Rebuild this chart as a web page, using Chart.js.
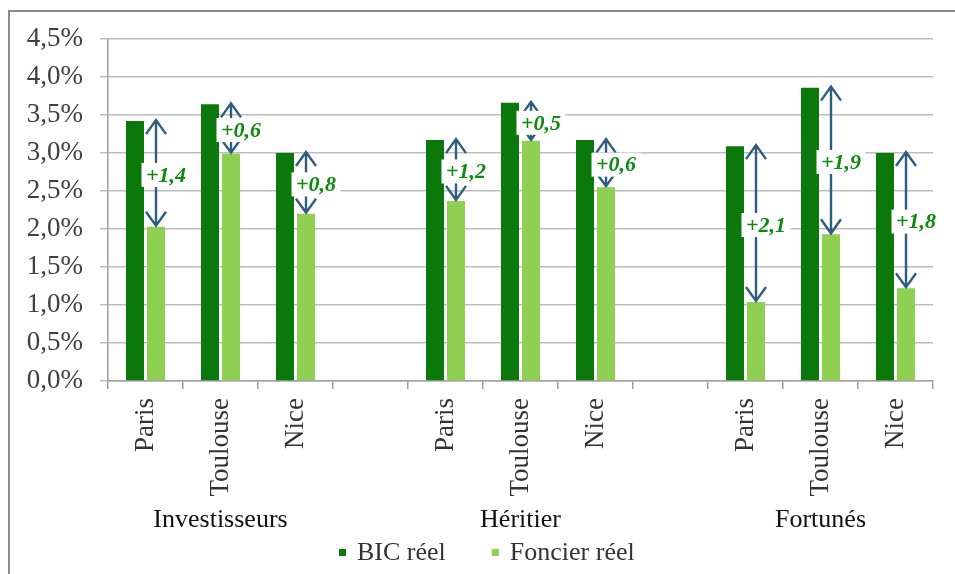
<!DOCTYPE html>
<html lang="fr">
<head>
<meta charset="utf-8">
<title>BIC réel vs Foncier réel</title>
<script src="https://cdn.jsdelivr.net/npm/chart.js@4.4.1/dist/chart.umd.min.js"></script>
<style>
    html, body { margin: 0; padding: 0; background: #fff; }
    #wrap { width: 955px; height: 574px; }
</style>
</head>
<body>
<div id="wrap"><canvas id="rendementChart" width="955" height="574"></canvas></div>
<script>
// villes (les cases vides séparent les profils)
const villes = ['Paris', 'Toulouse', 'Nice', '', 'Paris', 'Toulouse', 'Nice', '', 'Paris', 'Toulouse', 'Nice'];
const profils = ['Investisseurs', 'Héritier', 'Fortunés'];
const profilIndex = [1, 5, 9];

// rendements en %
const bicReel = [3.42, 3.64, 3.00, null, 3.17, 3.66, 3.17, null, 3.09, 3.86, 3.00];
const foncierReel = [2.03, 2.99, 2.20, null, 2.37, 3.16, 2.55, null, 1.04, 1.93, 1.22];
const ecarts = ['+1,4', '+0,6', '+0,8', '', '+1,2', '+0,5', '+0,6', '', '+2,1', '+1,9', '+1,8'];

const serif = '"Liberation Serif", "DejaVu Serif", serif';
Chart.defaults.font.family = serif;

// cadre gris en haut et a gauche
const cadrePlugin = {
    id: 'cadre',
    beforeDraw(chart) {
        const ctx = chart.ctx;
        ctx.save();
        ctx.fillStyle = '#fff';
        ctx.fillRect(0, 0, chart.width, chart.height);
        ctx.strokeStyle = '#8c8c8c';
        ctx.lineWidth = 2;
        ctx.beginPath();
        ctx.moveTo(9, chart.height);
        ctx.lineTo(9, 11);
        ctx.lineTo(chart.width, 11);
        ctx.stroke();
        ctx.restore();
    }
};

// fleches et ecarts
const ecartPlugin = {
    id: 'ecarts',
    afterDatasetsDraw(chart) {
        const ctx = chart.ctx;
        const y = chart.scales.y;
        const meta = chart.getDatasetMeta(1);
        ecarts.forEach((txt, i) => {
            if (!txt) return;
            const x = meta.data[i].x;
            const yTop = y.getPixelForValue(bicReel[i]) - 2;
            const yBot = y.getPixelForValue(foncierReel[i]);
            ctx.save();
            ctx.strokeStyle = '#2f5d7e';
            ctx.lineWidth = 2.4;
            ctx.beginPath();
            ctx.moveTo(x, yTop + 1);
            ctx.lineTo(x, yBot - 1);
            ctx.moveTo(x - 10, yTop + 15);
            ctx.lineTo(x, yTop + 1);
            ctx.lineTo(x + 10, yTop + 15);
            ctx.moveTo(x - 10, yBot - 15);
            ctx.lineTo(x, yBot - 1);
            ctx.lineTo(x + 10, yBot - 15);
            ctx.stroke();

            ctx.font = 'italic bold 22px ' + serif;
            const w = ctx.measureText(txt).width + 9;
            const cx = x + 10;
            const cy = (yTop + yBot) / 2 + 2;
            ctx.fillStyle = '#fff';
            ctx.fillRect(cx - w / 2, cy - 12, w, 24);
            ctx.fillStyle = '#0f8a0f';
            ctx.textAlign = 'center';
            ctx.textBaseline = 'middle';
            ctx.fillText(txt, cx, cy + 1);
            ctx.restore();
        });
    }
};

// noms des profils sous les villes + legende
const basPlugin = {
    id: 'profils',
    afterDraw(chart) {
        const ctx = chart.ctx;
        const x = chart.scales.x;
        const bottom = chart.chartArea.bottom;
        ctx.save();
        ctx.font = '26px ' + serif;
        ctx.fillStyle = '#111';
        ctx.textAlign = 'center';
        ctx.textBaseline = 'alphabetic';
        profils.forEach((p, k) => {
            ctx.fillText(p, x.getPixelForValue(profilIndex[k]), bottom + 146);
        });

        // legende
        ctx.textAlign = 'left';
        ctx.textBaseline = 'middle';
        let lx = chart.chartArea.left + 231;
        const ly = bottom + 172;
        chart.data.datasets.forEach(ds => {
            ctx.fillStyle = ds.backgroundColor;
            ctx.fillRect(lx, ly - 4, 7, 7);
            lx += 18;
            ctx.fillStyle = '#333';
            ctx.fillText(ds.label, lx, ly);
            lx += ctx.measureText(ds.label).width + 46;
        });
        ctx.restore();
    }
};

const ctx = document.getElementById('rendementChart').getContext('2d');
const rendementChart = new Chart(ctx, {
    type: 'bar',
    data: {
        labels: villes,
        datasets: [{
            label: 'BIC réel',
            data: bicReel,
            backgroundColor: '#0a780a',
            borderWidth: 0
        }, {
            label: 'Foncier réel',
            data: foncierReel,
            backgroundColor: '#8fcf52',
            borderWidth: 0
        }]
    },
    options: {
        responsive: false,
        animation: false,
        devicePixelRatio: 1,
        categoryPercentage: 0.56,
        barPercentage: 0.857,
        layout: {
            padding: { top: 39, right: 22, left: 0, bottom: 0 }
        },
        plugins: {
            legend: { display: false },
            tooltip: { enabled: false }
        },
        scales: {
            y: {
                min: 0,
                max: 4.5,
                ticks: {
                    stepSize: 0.5,
                    padding: 17,
                    color: '#404040',
                    font: { family: serif, size: 27 },
                    callback: v => v.toFixed(1).replace('.', ',') + '%'
                },
                grid: { color: '#bdbdbd', lineWidth: 1.5, tickLength: 8 },
                border: { color: '#a0a0a0', width: 1.5 },
                afterFit(scale) { scale.width = 108; }
            },
            x: {
                ticks: {
                    autoSkip: false,
                    minRotation: 90,
                    maxRotation: 90,
                    padding: 9,
                    color: '#333',
                    font: { family: serif, size: 27 }
                },
                grid: { drawOnChartArea: false, tickLength: 8, color: '#a0a0a0', lineWidth: 1.5 },
                border: { color: '#a0a0a0', width: 1.5 },
                afterFit(scale) { scale.height = 193; }
            }
        }
    },
    plugins: [cadrePlugin, ecartPlugin, basPlugin]
});
</script>
</body>
</html>
